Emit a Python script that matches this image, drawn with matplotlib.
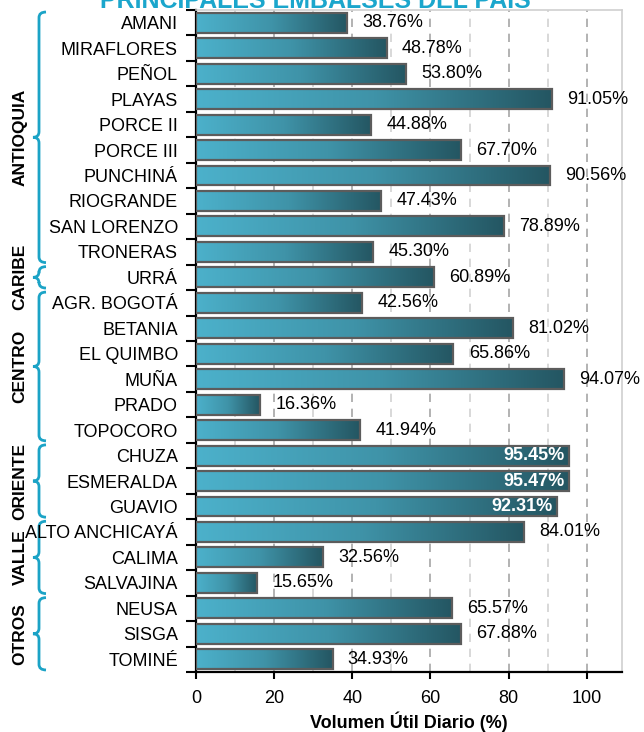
import matplotlib
matplotlib.use("Agg")
import matplotlib.pyplot as plt
import numpy as np
from matplotlib.colors import LinearSegmentedColormap
from matplotlib.path import Path
from matplotlib.patches import PathPatch
import matplotlib.transforms as mtransforms
from matplotlib import font_manager

# ---------------- data ----------------
embalses = ["AMANI", "MIRAFLORES", "PEÑOL", "PLAYAS", "PORCE II", "PORCE III",
            "PUNCHINÁ", "RIOGRANDE", "SAN LORENZO", "TRONERAS", "URRÁ",
            "AGR. BOGOTÁ", "BETANIA", "EL QUIMBO", "MUÑA", "PRADO", "TOPOCORO",
            "CHUZA", "ESMERALDA", "GUAVIO", "ALTO ANCHICAYÁ", "CALIMA",
            "SALVAJINA", "NEUSA", "SISGA", "TOMINÉ"]
volumen = [38.76, 48.78, 53.80, 91.05, 44.88, 67.70, 90.56, 47.43, 78.89,
           45.30, 60.89, 42.56, 81.02, 65.86, 94.07, 16.36, 41.94, 95.45,
           95.47, 92.31, 84.01, 32.56, 15.65, 65.57, 67.88, 34.93]
regiones = ["ANTIOQUIA", "CARIBE", "CENTRO", "ORIENTE", "VALLE", "OTROS"]
region_sizes = [10, 1, 6, 3, 3, 3]
inside_labels = ["CHUZA", "ESMERALDA", "GUAVIO"]
x_ticks = [0, 20, 40, 60, 80, 100]
title = "PRINCIPALES EMBALSES DEL PAÍS"
xlabel = "Volumen Útil Diario (%)"

# ---------------- fonts ----------------
avail = {f.name for f in font_manager.fontManager.ttflist}
fam = "Liberation Sans Narrow" if "Liberation Sans Narrow" in avail else "Liberation Sans"
plt.rcParams["font.family"] = [fam, "DejaVu Sans"]
FS = 13

W, H = 644, 732
fig = plt.figure(figsize=(W / 100, H / 100), dpi=100)
ax = fig.add_axes([196 / W, 1 - 672 / H, (622 - 196) / W, (672 - 10) / H])

n = len(embalses)
y = np.arange(n)
bar_h = 0.78

cmap = LinearSegmentedColormap.from_list("teal", ["#4cb1cb", "#3f93a8", "#245662"])
grad = np.linspace(0, 1, 256).reshape(1, -1)

bars = ax.barh(y, volumen, height=bar_h, facecolor="none",
               edgecolor="#5c5c5c", linewidth=1.6, zorder=4)
for b in bars:
    x0, y0 = b.get_x(), b.get_y()
    ax.imshow(grad, extent=[x0, x0 + b.get_width(), y0 + b.get_height(), y0],
              aspect="auto", cmap=cmap, zorder=3, interpolation="bicubic")

# grid
for gx in range(10, 110, 10):
    major = gx % 20 == 0
    ax.axvline(gx, color="#a6a6a6" if major else "#d2d2d2", lw=1.2,
               ls=(0, (5, 4)), zorder=1)

ax.set_xlim(0, 109)
ax.set_ylim(n - 0.5, -0.5)

# value labels
for name, v, yi in zip(embalses, volumen, y):
    txt = f"{v:.2f}%"
    if name in inside_labels:
        ax.annotate(txt, (v, yi), xytext=(-3, 0), textcoords="offset points",
                    ha="right", va="center", fontsize=FS, color="white",
                    fontweight="bold", zorder=6)
    else:
        ax.annotate(txt, (v, yi), xytext=(11, 0), textcoords="offset points",
                    ha="left", va="center", fontsize=FS, color="black",
                    zorder=6, annotation_clip=False)

# axes styling
ax.set_yticks(y)
ax.set_yticklabels(embalses, fontsize=FS)
ax.tick_params(axis="y", length=0, pad=13)
ax.set_yticks(np.arange(-0.5, n, 1), minor=True)
ax.tick_params(axis="y", which="minor", length=7, width=1.5, color="black")
ax.set_xticks(x_ticks)
ax.set_xticklabels([str(t) for t in x_ticks], fontsize=FS)
ax.tick_params(axis="x", length=5, width=1.5, pad=8)
ax.set_xlabel(xlabel, fontsize=FS, fontweight="bold", labelpad=3)

for s in ["left", "bottom"]:
    ax.spines[s].set_color("black")
    ax.spines[s].set_linewidth(1.6)
for s in ["top", "right"]:
    ax.spines[s].set_color("#d0d0d0")
    ax.spines[s].set_linewidth(1.2)

# title (cut at top like the reference)
fig.text(315 / W, 1 - 1 / H, title, ha="center", va="center", fontsize=18,
         fontweight="bold", color="#1ba6cc")

# braces + region labels
trans = mtransforms.blended_transform_factory(fig.transFigure, ax.transData)
bx_tip, bx_mid, bx_end = 33 / W, 39 / W, 46 / W
start = 0
for reg, size in zip(regiones, region_sizes):
    top = start - 0.42
    bot = start + size - 1 + 0.42
    mid = (top + bot) / 2
    c = 0.22
    verts = [(bx_end, top), (bx_mid, top), (bx_mid, top + c),
             (bx_mid, mid - c), (bx_mid, mid), (bx_tip, mid),
             (bx_mid, mid), (bx_mid, mid + c),
             (bx_mid, bot - c), (bx_mid, bot), (bx_end, bot)]
    codes = [Path.MOVETO, Path.CURVE3, Path.CURVE3,
             Path.LINETO, Path.CURVE3, Path.CURVE3,
             Path.CURVE3, Path.CURVE3,
             Path.LINETO, Path.CURVE3, Path.CURVE3]
    ax.add_patch(PathPatch(Path(verts, codes), transform=trans, fill=False,
                           edgecolor="#1ba3c6", lw=2, clip_on=False))
    ax.text(20 / W, (start + start + size - 1) / 2, reg, transform=trans,
            rotation=90, ha="center", va="center", fontsize=12.5,
            fontweight="bold", clip_on=False)
    start += size

fig.savefig("out.png", dpi=100)
